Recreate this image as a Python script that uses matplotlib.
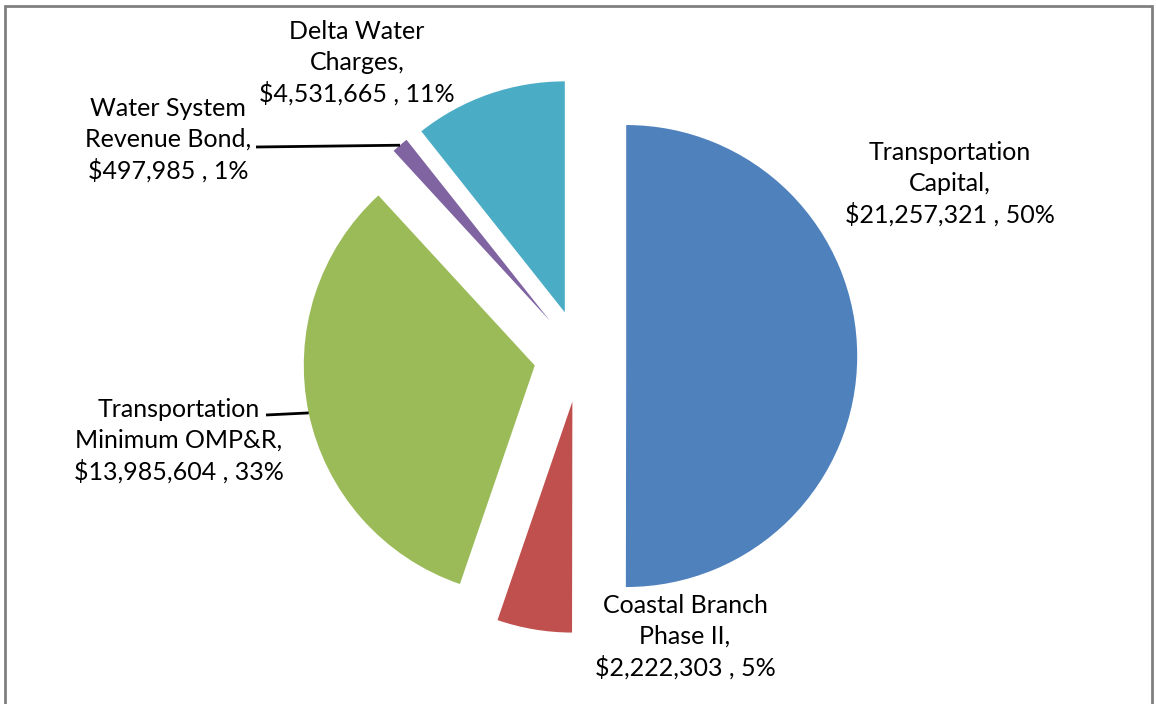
import numpy as np
import matplotlib.pyplot as plt
from matplotlib.patches import Rectangle

plt.rcParams['font.family'] = ['Lato', 'DejaVu Sans']

# data (clockwise from 12 o'clock)
names = ["Transportation\nCapital,", "Coastal Branch\nPhase II,", "Transportation\nMinimum OMP&R,",
         "Water System\nRevenue Bond,", "Delta Water\nCharges,"]
values = [21257321, 2222303, 13985604, 497985, 4531665]
colors = ['#4F81BD', '#C0504D', '#9BBB59', '#8064A2', '#4BACC6']

W, H = 1156, 704
CX, CY, R = 580, 356, 231   # pie centre / radius in pixels

def px(x, y):
    # pixel (from top-left) -> data coords, 1 unit = pie radius
    return (x - CX) / R, (CY - y) / R

fig = plt.figure(figsize=(W / 100, H / 100), dpi=100)
ax = fig.add_axes([0, 0, 1, 1])
ax.pie(values, colors=colors, startangle=90, counterclock=False, explode=[0.2] * 5,
       wedgeprops=dict(linewidth=0))
ax.set_xlim(px(0, 0)[0], px(W, 0)[0])
ax.set_ylim(px(0, H)[1], px(0, 0)[1])
ax.set_aspect('auto')
ax.axis('off')

total = sum(values)
labels = [f"{n}\n${v:,.0f} , {round(v / total * 100):.0f}%" for n, v in zip(names, values)]

# label centres (pixels)
label_pos = [(950, 184), (685, 637), (179, 441), (168, 140), (357, 63)]
for lab, (x, y) in zip(labels, label_pos):
    tx, ty = px(x, y)
    ax.text(tx, ty, lab, ha='center', va='center', fontsize=18, linespacing=1.37, color='black')

# leader lines to outer arc midpoint of small/left wedges
cum = np.cumsum([0] + values)
leaders = {3: (256, 147), 2: (266, 415)}
for i, (lx, ly) in leaders.items():
    mid = np.deg2rad(90 - (cum[i] + cum[i + 1]) / 2 / total * 360)
    ex, ey = 1.2 * np.cos(mid), 1.2 * np.sin(mid)
    sx, sy = px(lx, ly)
    ax.plot([sx, ex], [sy, ey], color='black', lw=2, solid_capstyle='butt')

# chart border
fig.patches.append(Rectangle((5 / W, -0.01), (W - 9) / W, (H - 6) / H + 0.01, transform=fig.transFigure,
                             fill=False, edgecolor='#808080', lw=2))

fig.savefig('out.png', dpi=100)
